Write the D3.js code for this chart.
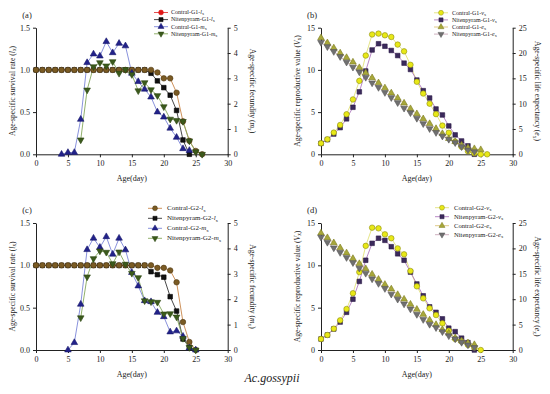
<!DOCTYPE html>
<html>
<head>
<meta charset="utf-8">
<title>lifeTable</title>
<script src="https://d3js.org/d3.v7.min.js"></script>
<style>
  body { margin: 0; background: #fff; }
  text { font-family: "Liberation Serif", "DejaVu Serif", serif; fill: #222; }
</style>
</head>
<body>
<svg width="550" height="394" id="mainsvg"></svg>
<script>
// values indexed by age (day 0, 1, 2 ...); null = no value that day
const xTicks = [0, 5, 10, 15, 20, 25, 30];
const lxTicks = [0, 0.5, 1.0, 1.5];
const mxTicks = [0, 1, 2, 3, 4, 5];
const vxTicks = [0, 5, 10, 15];
const exTicks = [0, 5, 10, 15, 20, 25];

// panel (a) G1
const lxControlG1 = [1,1,1,1,1,1,1,1,1,1,1,1,1,1,1,1,1,1,1, 0.97,0.90,0.90,0.73,0.39,0.16,0.04,0];
const lxNitenG1 = [1,1,1,1,1,1,1,1,1,1,1,1,1,1,1,1,1,1, 0.96,0.87,0.79,0.70,0.52,0.17,0];
const mxControlG1 = [null,null,null,null,0,0.07,0.07,1.38,3.62,3.96,3.88,4.45,4.01,4.38,4.28,3.2,2.87,2.57,2.26,1.67,1.47,1.03,0.67,0.22,0.15];
const mxNitenG1 = [null,null,null,null,null,null,null,0.57,2.54,3.46,3.62,3.49,3.66,3.2,3.35,3.15,2.51,2.83,2.55,2.32,1.88,1.39,1.34,1.3,0.53,0.1,0];

// panel (b) G1
const vxControlG1 = [1.3,1.78,2.57,3.47,4.74,6.5,8.7,11.7,14.2,14.3,14.1,13.9,13.0,12.2,10.6,8.6,7.2,6.0,4.76,3.4,2.55,1.5,0.88,0.35,0.12,0,0];
const vxNitenG1 = [1.3,1.74,2.4,3.16,4.2,5.57,7.4,9.87,12.36,13.1,12.8,12.3,11.7,10.8,10.05,8.8,7.54,6.67,5.37,4.66,3.36,2.3,1.58,1.0,0];
const exControlG1 = [23.0,22.0,21.0,20.0,19.1,18.2,17.1,16.1,15.1,14.1,13.1,12.1,11.1,10.1,9.0,8.0,7.0,6.05,5.07,4.08,3.1,2.5,1.8,1.3,1.1,0.9];
const exNitenG1 = [22.1,21.25,20.3,19.3,18.2,17.2,16.25,15.2,14.1,13.2,12.2,11.2,10.2,9.1,8.2,7.1,6.05,5.07,4.3,3.6,2.96,2.3,1.5,0.85,0.5];

// panel (c) G2
const lxControlG2 = [1,1,1,1,1,1,1,1,1,1,1,1,1,1,1,1,1,1,1, 0.97,0.97,0.94,0.80,0.33,0.095,0];
const lxNitenG2 = [1,1,1,1,1,1,1,1,1,1,1,1,1,1,1,1,1,1, 0.925,0.89,0.86,0.63,0.46,0.13,0.03];
const mxControlG2 = [null,null,null,null,null,0,0.29,1.8,3.95,4.4,4.04,4.46,3.77,4.4,3.94,3.05,2.52,1.94,1.9,1.48,1.31,0.71,0.75,0.54,0.08,0];
const mxNitenG2 = [null,null,null,null,null,null,null,1.27,2.88,3.6,3.9,3.85,3.4,3.86,3.38,3.02,2.85,1.94,1.9,1.88,1.42,1.43,1.3,0.46,0.1,0];

// panel (d) G2
const vxControlG2 = [1.3,1.77,2.52,3.5,4.84,6.7,9.2,12.3,14.45,14.37,13.66,13.2,12.0,11.3,9.33,7.52,6.1,4.92,4.13,3.15,2.28,1.3,1.0,0.6,0.3,0];
const vxNitenG2 = [1.3,1.77,2.48,3.3,4.45,6.0,8.1,10.6,12.6,13.2,12.95,12.2,11.36,10.6,9.2,7.8,6.4,5.1,4.45,3.68,2.58,2.17,1.4,0.87,0];
const exControlG2 = [23.0,22.1,21.1,20.1,19.1,18.0,17.0,16.0,14.9,13.9,12.9,12.0,10.9,10.0,9.0,8.0,7.0,5.9,5.0,4.0,3.3,2.4,1.8,1.4,1.05];
const exNitenG2 = [22.2,21.2,20.1,19.2,18.2,17.2,16.1,15.1,14.0,13.1,12.1,11.0,10.0,9.06,8.07,7.0,6.0,5.05,4.4,3.6,2.8,2.2,1.5,1.0,0.5];

const svg = d3.select('#mainsvg');
svg.append('rect').attr('width', 550).attr('height', 394).attr('fill', '#fff');

const downTri = { draw(ctx, size) { const s = Math.sqrt(size / 0.433) ; const h = s * 0.866;
  ctx.moveTo(-s / 2, -h / 3); ctx.lineTo(s / 2, -h / 3); ctx.lineTo(0, 2 * h / 3); ctx.closePath(); } };

const styles = {
  lxC: { sym: d3.symbolCircle, size: 24, fill: '#7a5b24', stroke: '#4f3810', line: '#c8864a' },
  lxN: { sym: d3.symbolSquare, size: 21, fill: '#111', stroke: '#000', line: '#333' },
  mxC: { sym: d3.symbolTriangle, size: 19, fill: '#22228a', stroke: '#15156a', line: '#7c86d8' },
  mxN: { sym: downTri, size: 19, fill: '#3b5a1c', stroke: '#2b4410', line: '#86a85c' },
  vxC: { sym: d3.symbolCircle, size: 24, fill: '#e8e817', stroke: '#8c8c10', line: '#e2e27a' },
  vxN: { sym: d3.symbolSquare, size: 21, fill: '#3b2a5c', stroke: '#2a1a44', line: '#b07ac0' },
  exC: { sym: d3.symbolTriangle, size: 19, fill: '#a8a83a', stroke: '#7a7a20', line: '#dcc47a' },
  exN: { sym: downTri, size: 19, fill: '#707070', stroke: '#555', line: '#c8a8b8' }
};

// label pieces: [plain, italic letter, subscript]
const panels = [
  { tag: '(a)', x: 36, y: 27.7, w: 191.7, h: 126.6, lMax: 1.5, lTicks: lxTicks, lFmt: d3.format('.1f'), rMax: 5, rTicks: mxTicks,
    lLabel: ['Age-specific survival rate (', 'l', 'x', ')'], rLabel: ['Age-specific fecundity (', 'm', 'x', ')'],
    legend: { mx: 161, tx: 171, y0: 12.5, dy: 7.1, fs: 6 },
    series: [
      { key: 'lxC', data: lxControlG1, axis: 'l', name: ['Contral-G1-', 'l', 'x'], legendFill: '#e01818', legendLine: '#e03a3a' },
      { key: 'lxN', data: lxNitenG1, axis: 'l', name: ['Nitenpyram-G1-', 'l', 'x'] },
      { key: 'mxC', data: mxControlG1, axis: 'r', name: ['Contral-G1-', 'm', 'x'] },
      { key: 'mxN', data: mxNitenG1, axis: 'r', name: ['Nitenpyram-G1-', 'm', 'x'] } ] },
  { tag: '(b)', x: 321, y: 27.7, w: 191.7, h: 126.6, lMax: 15, lTicks: vxTicks, lFmt: d3.format('d'), rMax: 25, rTicks: exTicks,
    lLabel: ['Age-specific reproductive value (', 'V', 'x', ')'], rLabel: ['Age-specific life expectancy (', 'e', 'x', ')'],
    legend: { mx: 441, tx: 452, y0: 12.8, dy: 7.1, fs: 6 },
    series: [
      { key: 'vxC', data: vxControlG1, axis: 'l', name: ['Contral-G1-', 'v', 'x'] },
      { key: 'vxN', data: vxNitenG1, axis: 'l', name: ['Nitenpyram-G1-', 'v', 'x'] },
      { key: 'exC', data: exControlG1, axis: 'r', name: ['Contral-G1-', 'e', 'x'] },
      { key: 'exN', data: exNitenG1, axis: 'r', name: ['Nitenpyram-G1-', 'e', 'x'] } ] },
  { tag: '(c)', x: 36, y: 223, w: 191.7, h: 127, lMax: 1.5, lTicks: lxTicks, lFmt: d3.format('.1f'), rMax: 5, rTicks: mxTicks,
    lLabel: ['Age-specific survival rate (', 'l', 'x', ')'], rLabel: ['Age-specific fecundity (', 'm', 'x', ')'],
    legend: { mx: 155, tx: 167, y0: 208.3, dy: 10, fs: 7 },
    series: [
      { key: 'lxC', data: lxControlG2, axis: 'l', name: ['Contral-G2-', 'l', 'x'] },
      { key: 'lxN', data: lxNitenG2, axis: 'l', name: ['Nitenpyram-G2-', 'l', 'x'] },
      { key: 'mxC', data: mxControlG2, axis: 'r', name: ['Contral-G2-', 'm', 'x'] },
      { key: 'mxN', data: mxNitenG2, axis: 'r', name: ['Nitenpyram-G2-', 'm', 'x'] } ] },
  { tag: '(d)', x: 321, y: 223, w: 191.7, h: 127, lMax: 15, lTicks: vxTicks, lFmt: d3.format('d'), rMax: 25, rTicks: exTicks,
    lLabel: ['Age-specific reproductive value (', 'V', 'x', ')'], rLabel: ['Age-specific life expectancy (', 'e', 'x', ')'],
    legend: { mx: 442, tx: 454, y0: 207.7, dy: 9, fs: 6.6 },
    series: [
      { key: 'vxC', data: vxControlG2, axis: 'l', name: ['Contral-G2-', 'v', 'x'] },
      { key: 'vxN', data: vxNitenG2, axis: 'l', name: ['Nitenpyram-G2-', 'v', 'x'] },
      { key: 'exC', data: exControlG2, axis: 'r', name: ['Contral-G2-', 'e', 'x'] },
      { key: 'exN', data: exNitenG2, axis: 'r', name: ['Nitenpyram-G2-', 'e', 'x'] } ] }
];

function addLabel(sel, parts) {
  sel.append('tspan').text(parts[0]);
  sel.append('tspan').attr('font-style', 'italic').text(parts[1]);
  sel.append('tspan').attr('font-size', '0.7em').attr('dy', '0.25em').text(parts[2]);
  if (parts[3]) sel.append('tspan').attr('dy', '-0.175em').text(parts[3]);
}

const drawPanel = function (p) {
  const g = svg.append('g').attr('transform', `translate(${p.x}, ${p.y})`);
  const xScale = d3.scaleLinear().domain([0, 30]).range([0, p.w]);
  const yL = d3.scaleLinear().domain([0, p.lMax]).range([p.h, 0]);
  const yR = d3.scaleLinear().domain([0, p.rMax]).range([p.h, 0]);

  const styleAxis = a => {
    a.select('.domain').attr('stroke', '#222');
    a.selectAll('.tick line').attr('stroke', '#222');
    a.selectAll('text').attr('font-size', 8).attr('font-family', '"Liberation Serif", serif').attr('fill', '#222');
  };
  g.append('g').attr('transform', `translate(0, ${p.h})`)
    .call(d3.axisBottom(xScale).tickValues(xTicks).tickFormat(d3.format('d')).tickSize(3).tickSizeOuter(0)).call(styleAxis);
  g.append('g').call(d3.axisLeft(yL).tickValues(p.lTicks).tickFormat(p.lFmt).tickSize(3).tickSizeOuter(0)).call(styleAxis);
  g.append('g').attr('transform', `translate(${p.w}, 0)`)
    .call(d3.axisRight(yR).tickValues(p.rTicks).tickFormat(d3.format('d')).tickSize(3).tickSizeOuter(0)).call(styleAxis);

  g.append('text').text('Age(day)').attr('x', p.w / 2).attr('y', p.h + 27)
    .attr('text-anchor', 'middle').attr('font-size', 8);
  addLabel(g.append('text').attr('transform', `translate(${-21.5}, ${p.h / 2}) rotate(-90)`)
    .attr('text-anchor', 'middle').attr('font-size', 7.6), p.lLabel);
  addLabel(g.append('text').attr('transform', `translate(${p.w + 22}, ${p.h / 2}) rotate(90)`)
    .attr('text-anchor', 'middle').attr('font-size', 7.6), p.rLabel);
  g.append('text').text(p.tag).attr('x', -9).attr('y', -10).attr('text-anchor', 'middle').attr('font-size', 8.5);

  // lines first, then markers
  p.series.forEach(s => {
    const st = styles[s.key];
    const y = s.axis === 'l' ? yL : yR;
    const pts = s.data.map((v, i) => ({ age: i, v: v })).filter(d => d.v != null);
    g.append('path').datum(pts)
      .attr('fill', 'none').attr('stroke', st.line).attr('stroke-width', 0.9)
      .attr('d', d3.line().x(d => xScale(d.age)).y(d => y(d.v)));
  });
  const order = [1, 0, 2, 3];
  order.forEach(k => {
    const s = p.series[k];
    const st = styles[s.key];
    const y = s.axis === 'l' ? yL : yR;
    const pts = s.data.map((v, i) => ({ age: i, v: v })).filter(d => d.v != null);
    g.append('g').selectAll('path').data(pts).join('path')
      .attr('transform', d => `translate(${xScale(d.age)}, ${y(d.v)})`)
      .attr('d', d3.symbol().type(st.sym).size(st.size))
      .attr('fill', st.fill).attr('stroke', st.stroke).attr('stroke-width', 0.6);
  });

  // legend
  const L = p.legend;
  p.series.forEach((s, i) => {
    const st = styles[s.key];
    const ly = L.y0 + i * L.dy;
    svg.append('line').attr('x1', L.mx - 7).attr('x2', L.mx + 7).attr('y1', ly).attr('y2', ly)
      .attr('stroke', s.legendLine || st.line).attr('stroke-width', 0.9);
    svg.append('path').attr('transform', `translate(${L.mx}, ${ly})`)
      .attr('d', d3.symbol().type(st.sym).size(st.size * 0.8))
      .attr('fill', s.legendFill || st.fill).attr('stroke', s.legendFill || st.stroke).attr('stroke-width', 0.5);
    addLabel(svg.append('text').attr('x', L.tx).attr('y', ly + L.fs * 0.3).attr('font-size', L.fs), s.name);
  });
};

panels.forEach(drawPanel);

svg.append('text').text('Ac.gossypii').attr('x', 272).attr('y', 382)
  .attr('text-anchor', 'middle').attr('font-style', 'italic').attr('font-size', 12);
</script>
</body>
</html>
